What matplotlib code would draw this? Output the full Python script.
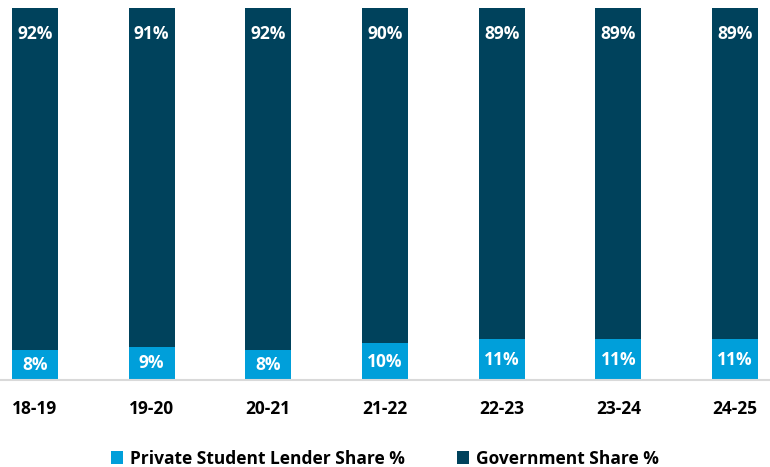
import matplotlib.pyplot as plt
import numpy as np

# Participação no mercado de empréstimos estudantis por ano letivo
anos = ["18-19", "19-20", "20-21", "21-22", "22-23", "23-24", "24-25"]
privado = [8, 9, 8, 10, 11, 11, 11]
governo = [92, 91, 92, 90, 89, 89, 89]

COR_PRIVADO = "#009FDA"
COR_GOVERNO = "#00425C"

plt.rcParams["font.family"] = ["Open Sans", "DejaVu Sans"]
plt.rcParams["font.weight"] = "bold"

fig = plt.figure(figsize=(7.7, 4.67), dpi=100)
ax = fig.add_axes([0, 0.186, 1, 0.797])

x = np.arange(len(anos))
largura = 0.395

b1 = ax.bar(x, privado, largura, color=COR_PRIVADO, label="Private Student Lender Share %")
b2 = ax.bar(x, governo, largura, bottom=privado, color=COR_GOVERNO, label="Government Share %")

# Rótulos: privado no centro do segmento, governo perto do topo
for xi, p, g in zip(x, privado, governo):
    ax.text(xi, p / 2, f"{p}%", ha="center", va="center", color="white",
            fontsize=12.5, fontweight="bold")
    ax.annotate(f"{g}%", (xi, p + g), xytext=(0, -18.5), textcoords="offset points",
                ha="center", va="center", color="white", fontsize=12.5, fontweight="bold")

ax.set_xlim(-0.3, len(anos) - 0.7)
ax.set_ylim(0, 100)
ax.set_xticks(x)
ax.set_xticklabels(anos, fontsize=12.5, fontweight="bold")
ax.tick_params(axis="x", length=0, pad=14)
ax.set_yticks([])
for lado in ["top", "right", "left"]:
    ax.spines[lado].set_visible(False)
ax.spines["bottom"].set_color("#D9D9D9")
ax.spines["bottom"].set_linewidth(1.5)

fig.legend(handles=[b1, b2], loc="center", bbox_to_anchor=(0.5, 0.018),
           ncol=2, frameon=False, handlelength=0.7, handleheight=0.7,
           handletextpad=0.4, columnspacing=3.0, prop={"weight": "bold", "size": 12.5})

fig.savefig("out.png", dpi=100)
